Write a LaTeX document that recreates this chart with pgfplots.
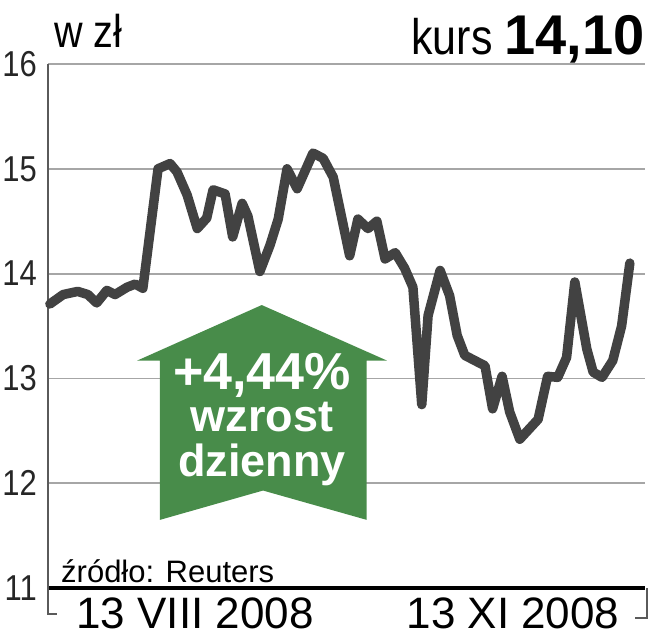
\documentclass[border=0pt]{standalone}
\usepackage{fontspec}
\setmainfont{Liberation Sans}
\newfontfamily\cond[FakeStretch=0.86]{Liberation Sans}
\usepackage{pgfplots}
\pgfplotsset{compat=1.18}

\definecolor{linegray}{HTML}{424242}
\definecolor{gridgray}{HTML}{A6A6A6}
\definecolor{axisgray}{HTML}{5A5A5A}
\definecolor{arrowgreen}{HTML}{488C4A}

\begin{document}
\begin{tikzpicture}
\useasboundingbox (0,0) rectangle (655pt,640pt);
\begin{axis}[
    at={(48pt,52pt)}, anchor=south west,
    scale only axis,
    width=597pt, height=524pt,
    xmin=0, xmax=94.4,
    ymin=11, ymax=16,
    ytick={11,12,13,14,15,16},
    xtick=\empty,
    major tick length=0pt,
    axis lines=left,
    x axis line style={-, black, line width=4pt},
    y axis line style={-, axisgray, line width=1.8pt},
    ymajorgrids,
    grid style={gridgray, line width=1.8pt},
    yticklabel style={font=\cond\fontsize{36}{36}\selectfont, text=black!85,
        inner sep=0pt, xshift=-11pt},
    /pgf/number format/assume math mode=true,
    clip=false,
]
% arrow annotation
\fill[arrowgreen] (axis cs:33.8,13.70) -- (axis cs:53.6,13.17) -- (axis cs:50.4,13.17)
    -- (axis cs:50.4,11.65) -- (axis cs:34.0,11.93) -- (axis cs:17.7,11.65)
    -- (axis cs:17.7,13.17) -- (axis cs:14.1,13.17) -- cycle;

\addplot[linegray, line width=9.5pt, line join=round, line cap=round] coordinates {
(0.3,13.71) (2.4,13.80) (4.7,13.83) (6.3,13.80) (7.7,13.72) (9.3,13.84)
(10.6,13.80) (12.5,13.87) (13.8,13.90) (15.0,13.86) (17.4,15.00) (19.3,15.05)
(20.4,14.97) (22.0,14.75) (23.6,14.43) (25.1,14.53) (26.1,14.80) (28.0,14.76)
(29.2,14.35) (30.7,14.67) (31.6,14.55) (33.5,14.02) (35.1,14.27) (36.4,14.52)
(37.8,15.00) (39.4,14.81) (41.9,15.15) (43.5,15.10) (45.1,14.92) (47.7,14.17)
(49.0,14.52) (50.6,14.43) (52.0,14.50) (53.3,14.14) (54.9,14.20) (56.4,14.05)
(57.7,13.87) (59.1,12.75) (60.1,13.60) (62.0,14.03) (63.5,13.79) (64.7,13.41)
(65.9,13.22) (69.1,13.12) (70.3,12.71) (71.8,13.02) (73.0,12.68) (74.6,12.42)
(77.5,12.61) (79.0,13.02) (80.6,13.01) (82.0,13.20) (83.3,13.92) (85.2,13.28)
(86.2,13.06) (87.6,13.01) (89.3,13.17) (90.7,13.50) (92.0,14.10)
};
\end{axis}

% text in the arrow
\node[anchor=base, text=white, font=\fontsize{52}{52}\selectfont\bfseries] at (262pt,250pt) {+4,44\%};
\node[anchor=base, text=white, font=\fontsize{45}{45}\selectfont\bfseries] at (262pt,208pt) {wzrost};
\node[anchor=base, text=white, font=\fontsize{45}{45}\selectfont\bfseries] at (262pt,164pt) {dzienny};

% titles
\node[anchor=base west, inner sep=0pt, font=\cond\fontsize{46}{46}\selectfont] at (54pt,592pt) {w zł};
\node[anchor=base east, inner sep=0pt] at (645pt,585pt)
    {\cond\fontsize{50}{50}\selectfont kurs \normalfont\fontsize{56}{56}\selectfont\bfseries 14,10};

% source
\node[anchor=base west, inner sep=0pt, font=\fontsize{31}{31}\selectfont] at (61pt,58pt) {źródło: Reuters};

% date labels and brackets
\node[anchor=base, inner sep=0pt, font=\fontsize{44}{44}\selectfont] at (195pt,12pt) {13 VIII 2008};
\node[anchor=base, inner sep=0pt, font=\fontsize{44}{44}\selectfont] at (513pt,12pt) {13 XI 2008};
\draw[axisgray, line width=1.5pt] (48pt,52pt) -- (48pt,26pt) -- (57pt,26pt);
\draw[axisgray, line width=1.5pt] (647pt,52pt) -- (647pt,22pt) -- (635pt,22pt);
\end{tikzpicture}
\end{document}
